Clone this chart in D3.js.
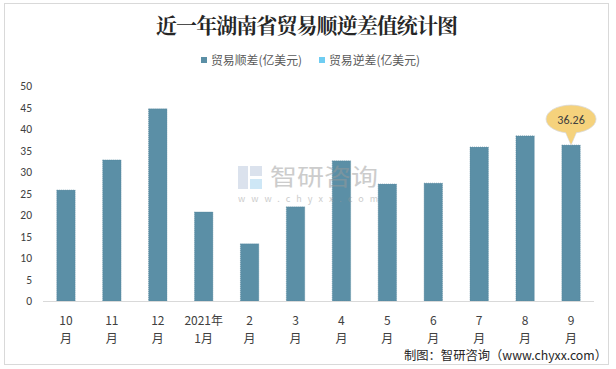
<!DOCTYPE html>
<html><head><meta charset="utf-8">
<script src="https://cdn.jsdelivr.net/npm/d3@7/dist/d3.min.js"></script>
<style>body{margin:0;background:#fff}svg{display:block}</style>
</head><body>
<script>
const categories = [["10","月"],["11","月"],["12","月"],["2021年","1月"],["2","月"],["3","月"],["4","月"],["5","月"],["6","月"],["7","月"],["8","月"],["9","月"]];
const surplus = [25.8, 32.8, 44.7, 20.7, 13.3, 21.9, 32.6, 27.2, 27.4, 35.8, 38.4, 36.26];
const yTicks = [0,5,10,15,20,25,30,35,40,45,50];
const seriesNames = ["贸易顺差(亿美元)", "贸易逆差(亿美元)"];
const seriesColors = ["#5b8fa6", "#6fcdf2"];
const titleText = "近一年湖南省贸易顺逆差值统计图";
const sourceText = "制图：智研咨询（www.chyxx.com）";
const callout = {index: 11, label: "36.26"};

const W = 616, H = 369;
const svg = d3.select("body").append("svg").attr("width", W).attr("height", H);
const font = "'Noto Sans CJK SC', 'Microsoft YaHei', sans-serif";

svg.append("rect").attr("x", 4.5).attr("y", 3.5).attr("width", 604).attr("height", 361)
  .attr("fill", "#fff").attr("stroke", "#d9d9d9").attr("stroke-width", 1);

svg.append("text").attr("x", 307).attr("y", 33).attr("text-anchor", "middle")
  .attr("font-family", "'Noto Serif CJK SC','Noto Sans CJK SC',serif").attr("font-weight", "bold")
  .attr("font-size", 21).attr("fill", "#262626").attr("textLength", 302).attr("lengthAdjust", "spacing")
  .text(titleText);

// legend
const legendX = [201, 319];
seriesNames.forEach((n, i) => {
  const g = svg.append("g").attr("transform", `translate(${legendX[i]},0)`);
  g.append("rect").attr("x", 0).attr("y", 57).attr("width", 6).attr("height", 6).attr("fill", seriesColors[i]);
  g.append("text").attr("x", 10).attr("y", 64.5).attr("font-family", font).attr("font-size", 12)
    .attr("fill", "#595959").attr("textLength", 91).attr("lengthAdjust", "spacingAndGlyphs").text(n);
});

const x = d3.scaleBand().domain(d3.range(categories.length)).range([43, 594]).paddingInner(0.6).paddingOuter(0.3);
const y = d3.scaleLinear().domain([0, 50]).range([301, 86]);

// y axis labels
svg.append("g").selectAll("text").data(yTicks).join("text")
  .attr("x", 32).attr("y", d => y(d) + 4).attr("text-anchor", "end")
  .attr("font-family", "Calibri, 'Liberation Sans', Arial, sans-serif").attr("font-size", 11.5).attr("fill", "#404040")
  .text(d => d);

// bars
svg.append("g").selectAll("rect").data(surplus).join("rect")
  .attr("x", (d, i) => x(i)).attr("width", x.bandwidth())
  .attr("y", d => y(d)).attr("height", d => y(0) - y(d))
  .attr("fill", seriesColors[0]).attr("stroke", "#4f8199").attr("stroke-width", 0.6).attr("stroke-dasharray", "1,1");

// watermark (over bars, translucent)
const wm = svg.append("g").attr("opacity", 0.5);
wm.append("rect").attr("x", 238).attr("y", 166).attr("width", 10).attr("height", 23).attr("fill", "#b8c6dc");
wm.append("rect").attr("x", 250).attr("y", 166).attr("width", 12).attr("height", 10).attr("fill", "#b8c6dc");
wm.append("rect").attr("x", 250).attr("y", 179).attr("width", 12).attr("height", 10).attr("fill", "#9fd0ee");
wm.append("text").attr("x", 270).attr("y", 185).attr("font-family", font).attr("font-size", 23)
  .attr("fill", "#9a9a9a").attr("textLength", 108).attr("lengthAdjust", "spacingAndGlyphs").text("智研咨询");
wm.append("text").attr("x", 238).attr("y", 202).attr("font-family", font).attr("font-size", 9)
  .attr("fill", "#9a9a9a").attr("textLength", 140).attr("lengthAdjust", "spacing").text("www.chyxx.com");

// baseline
svg.append("line").attr("x1", 43).attr("x2", 594).attr("y1", 301.5).attr("y2", 301.5).attr("stroke", "#d9d9d9");

// category labels
const cl = svg.append("g").selectAll("text").data(categories).join("text")
  .attr("text-anchor", "middle").attr("font-family", font).attr("font-size", 12).attr("fill", "#404040");
cl.append("tspan").attr("x", (d, i) => x(i) + x.bandwidth() / 2).attr("y", 325).text(d => d[0]);
cl.append("tspan").attr("x", (d, i) => x(i) + x.bandwidth() / 2).attr("y", 343).text(d => d[1]);

// callout
const cx = x(callout.index) + x.bandwidth() / 2;
const tipY = y(surplus[callout.index]);
const ey = tipY - 26;
const cg = svg.append("g");
cg.append("path").attr("d", `M${cx - 6},${ey + 12} L${cx},${tipY} L${cx + 6},${ey + 12} Z`)
  .attr("fill", "#f5d27c").attr("stroke", "#d9d9d9").attr("stroke-width", 0.8);
cg.append("ellipse").attr("cx", cx).attr("cy", ey).attr("rx", 25).attr("ry", 14)
  .attr("fill", "#f5d27c").attr("stroke", "#d9d9d9").attr("stroke-width", 0.8);
cg.append("path").attr("d", `M${cx - 5.5},${ey + 12} L${cx},${tipY - 1} L${cx + 5.5},${ey + 12} Z`).attr("fill", "#f5d27c");
cg.append("text").attr("x", cx).attr("y", ey + 4.5).attr("text-anchor", "middle")
  .attr("font-family", "Calibri, 'Liberation Sans', Arial, sans-serif").attr("font-size", 12).attr("fill", "#404040")
  .text(callout.label);

// source
svg.append("text").attr("x", 404).attr("y", 360).attr("font-family", "'Noto Sans CJK SC', 'DejaVu Sans Mono', monospace")
  .attr("font-size", 12.5).attr("fill", "#262626").attr("textLength", 203).attr("lengthAdjust", "spacingAndGlyphs")
  .text(sourceText);
</script>
</body></html>
